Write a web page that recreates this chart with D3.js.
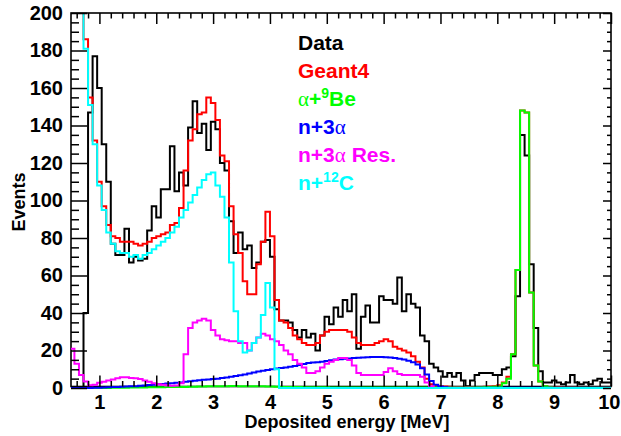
<!DOCTYPE html>
<html><head><meta charset="utf-8">
<script src="https://cdn.jsdelivr.net/npm/d3@7"></script>
<style>
body{margin:0;background:#fff;}
svg{display:block;}
text{font-family:"Liberation Sans",Arial,Helvetica,sans-serif;font-weight:bold;}
</style></head><body>
<svg id="c" width="621" height="436"></svg>
<script>
// ---- binning (MeV) ----
const binLow = 0.48, binWidth = 0.08;

// ---- series (counts per 0.08 MeV bin, first bin 0.48-0.56 MeV) ----
const dataCounts = [
  0,0,0,40,147,177,160,130,110,77,
  71,71,85,67,70,68,69,84,97,91,
  106,106,129,105,115,108,139,153,136,141,
  127,142,138,120,116,89,72,83,74,76,
  64,67,78,79,70,42,36,36,35,31,
  27,31,27,29,20,28,38,34,43,38,
  47,41,50,21,38,44,35,35,49,47,
  47,45,59,41,50,45,43,28,25,13,
  11,9,6,8,6,8,4,1,4,7,
  8,8,8,7,7,10,11,17,49,135,
  124,66,32,9,3,3,4,3,2,3,
  7,3,2,3,2,4,5,3,3
];
const geant4 = [
  260,235,210,186,155,132,110,97,87,81,
  80,78,78,78,77,76,77,78,80,81,
  82,83,87,88,96,116,132,138,146,147,
  155,152,143,124,121,97,82,72,57,50,
  50,66,78,94,81,47,36,35,32,28,
  26,24,23,23,24,28,30,31,31,31,
  31,30,27,24,23,23,23,24,25,26,
  25,22,21,20,19,17,14,11,5,2,
  1.2,1,0.8,0.7,0.6,0.6,0.5,0.5,0.5,0.6,
  0.6,0.7,0.8,1,1.5,3,6,18,63,148,
  147,51,12,3.5,1,0.5,0.4,0.4,0.3,0.3,
  0.3,0.3,0.2,0.2,0.2,0.2,0.2,0.2,0.2
];
const alphaBe9 = [
  0,0,0,0,0,0,0,0,0,0.1,
  0.1,0.2,0.2,0.3,0.3,0.3,0.3,0.4,0.4,0.4,
  0.4,0.5,0.5,0.5,0.6,0.6,0.7,0.7,0.8,0.8,
  0.9,0.9,1.0,1.0,1.0,1.1,1.1,1.0,1.0,1.0,
  0.9,0.9,0.9,0.8,0.8,0.7,0.6,0.6,0.5,0.5,
  0.5,0.4,0.4,0.4,0.4,0.4,0.4,0.3,0.3,0.3,
  0.3,0.3,0.3,0.3,0.3,0.3,0.3,0.3,0.3,0.3,
  0.3,0.3,0.3,0.3,0.3,0.3,0.3,0.3,0.3,0.3,
  0.3,0.3,0.3,0.3,0.3,0.3,0.3,0.3,0.3,0.4,
  0.4,0.5,0.5,0.7,0.8,2.6,5,18,63,148,
  147,51,12,3.5,1,0.4,0.2,0.2,0.2,0.2,
  0.2,0.2,0.2,0.2,0.2,0.2,0.2,0.2,0.2
];
const n3alpha = [
  0,0,0,0,0,0.1,0.2,0.3,0.4,0.5,
  0.6,0.7,0.8,0.9,1.0,1.2,1.4,1.6,1.8,2.0,
  2.2,2.4,2.6,2.8,3.0,3.3,3.6,3.9,4.2,4.4,
  4.6,4.8,5.0,5.3,5.6,6.0,6.4,6.8,7.2,7.8,
  8.3,8.8,9.2,9.6,10.0,10.4,10.7,11.0,11.4,11.8,
  12.3,12.8,13.3,13.6,13.8,14.0,14.4,14.8,15.2,15.4,
  15.6,15.8,16.0,16.2,16.3,16.4,16.5,16.6,16.5,16.4,
  16.3,16.0,15.6,15.2,14.6,13.8,12.6,10.6,7.2,3.8,
  1.8,0.8,0.4,0.2,0.1,0.1,0.1,0.1,0.1,0.1,
  0.1,0.1,0.1,0.1,0.1,0.1,0.1,0.1,0.1,0.1,
  0.1,0.1,0.1,0.1,0.1,0.1,0.1,0.1,0.1,0.1,
  0.1,0.1,0.1,0.1,0.1,0.1,0.1,0.1,0.1
];
const n3alphaRes = [
  21,13,7,3.5,1.5,1.8,2.8,3.4,4,4.6,
  5.2,5.7,5.8,5.4,5.2,4.8,4,3.4,2.6,2,
  1.7,1.3,1.2,1.4,2.6,18,32,35,36,37,
  36,31,28,26,25.5,25,25,24,24,20,
  24,27,29,28,26,25,23,20,18,15,
  13,11,8,8,9,11,13,14,15,16,
  16,15,12,8,7,7,7,7,7,8.5,
  10.5,9,7.5,7,7,7,7,6,3,1,
  0,0,0,0,0,0,0,0,0,0,
  0,0,0,0,0,0,0,0,0,0,
  0,0,0,0,0,0,0,0,0,0,
  0,0,0,0,0,0,0,0,0
];
const n12C = [
  280,250,220,181,151,130,108,95,83,77,
  73,72,72,70,71,69,71,72,74,76,
  78,80,83,86,91,95,99,103,107,111,
  114,115,108,102,91,67,41,25,19,20,
  24,27,39,56,43,10,0,0,0,0,
  0,0,0,0,0,0,0,0,0,0,
  0,0,0,0,0,0,0,0,0,0,
  0,0,0,0,0,0,0,0,0,0,
  0,0,0,0,0,0,0,0,0,0,
  0,0,0,0,0,0,0,0,0,0,
  0,0,0,0,0,0,0,0,0,0,
  0,0,0,0,0,0,0,0,0
];

// ---- ticks ----
const xMajorTicks = [1,2,3,4,5,6,7,8,9,10];
const yMajorTicks = [0,20,40,60,80,100,120,140,160,180,200];
const legendNames = ["Data","Geant4","α+9Be","n+3α","n+3α Res.","n+12C"];

// ---- styles ----
const seriesColors = ["#000000","#ff0000","#00ff00","#0000ff","#ff00ff","#00ffff"];

const svg = d3.select("#c");
const W = 621, H = 436, L = 71, R = 611, T = 13, B = 388;
svg.append("rect").attr("width",W).attr("height",H).attr("fill","#fff");

const x = d3.scaleLinear().domain([0.5,10]).range([L,R]);
const y = d3.scaleLinear().domain([0,200]).range([B,T]);

const nb = dataCounts.length;
const edges = d3.range(nb+1).map(i => binLow + i*binWidth);

svg.append("defs").append("clipPath").attr("id","plotclip")
  .append("rect").attr("x",L).attr("y",T).attr("width",R-L).attr("height",B-T+2);

const line = d3.line().x(d=>x(d[0])).y(d=>y(d[1])).curve(d3.curveStepAfter);
function pts(vals){
  const p = vals.map((v,i)=>[edges[i], v]);
  p.push([edges[vals.length], vals[vals.length-1]]);
  return p;
}

// frame
svg.append("rect").attr("x",L).attr("y",T).attr("width",R-L).attr("height",386.5-T)
  .attr("fill","none").attr("stroke","#000").attr("stroke-width",1.6);

const series = [dataCounts, geant4, alphaBe9, n3alpha, n3alphaRes, n12C];
const hg = svg.append("g").attr("clip-path","url(#plotclip)");
series.forEach((s,i)=>{
  hg.append("path").attr("d", line(pts(s)))
    .attr("fill","none").attr("stroke",seriesColors[i]).attr("stroke-width",2)
    .attr("stroke-linejoin","miter");
});

// ticks
const xMinor = d3.range(3,50).map(i=>i*0.2).filter(v=>Math.abs(v-Math.round(v))>1e-6 && v<10);
const yMinor = d3.range(0,41).map(i=>i*5).filter(v=>v%20!==0);
function tickAxis(gen, tr, vals, size){
  const g = svg.append("g").attr("transform",tr)
    .call(gen.tickValues(vals).tickSize(size).tickFormat(""));
  g.select(".domain").remove();
  g.selectAll("line").attr("stroke","#000").attr("stroke-width",1.5);
}
tickAxis(d3.axisRight(y), `translate(${L},0)`, yMajorTicks, 16);
tickAxis(d3.axisRight(y), `translate(${L},0)`, yMinor, 8);
tickAxis(d3.axisLeft(y), `translate(${R},0)`, yMajorTicks, 8);
tickAxis(d3.axisLeft(y), `translate(${R},0)`, yMinor, 4);
tickAxis(d3.axisTop(x), `translate(0,386.5)`, xMajorTicks, 11);
tickAxis(d3.axisTop(x), `translate(0,386.5)`, xMinor, 5.5);
tickAxis(d3.axisBottom(x), `translate(0,${T})`, xMajorTicks, 11);
tickAxis(d3.axisBottom(x), `translate(0,${T})`, xMinor, 5.5);

// labels
function labelAxis(gen, tr, vals, pad){
  const g = svg.append("g").attr("transform",tr)
    .call(gen.tickValues(vals).tickSize(0).tickPadding(pad).tickFormat(d3.format("d")));
  g.select(".domain").remove();
  g.attr("font-size",20).attr("font-family",'"Liberation Sans",Arial,sans-serif').attr("font-weight","bold");
  g.selectAll("text").attr("fill","#000");
  return g;
}
labelAxis(d3.axisLeft(y), `translate(${L},0)`, yMajorTicks, 8);
const xl = labelAxis(d3.axisBottom(x), `translate(0,387)`, xMajorTicks, 8);
// keep the last label inside the window
xl.selectAll(".tick").filter(d=>d===10).select("text").attr("text-anchor","end").attr("x",9);

// axis titles
svg.append("text").attr("x",347).attr("y",428).attr("text-anchor","middle")
  .attr("font-size",18).text("Deposited energy [MeV]");
svg.append("text").attr("transform","translate(25,202) rotate(-90)").attr("text-anchor","middle")
  .attr("font-size",18).text("Events");

// legend
const greek = '"Liberation Serif","DejaVu Serif",serif';
const lg = svg.append("g");
legendNames.forEach((name,i)=>{
  const t = lg.append("text").attr("x",298).attr("y",50+28*i).attr("font-size",21)
    .attr("fill",seriesColors[i]);
  if (name === "α+9Be"){
    t.append("tspan").attr("font-family",greek).attr("font-weight","normal").text("α");
    t.append("tspan").text("+");
    t.append("tspan").attr("font-size",14).attr("dy",-8).text("9");
    t.append("tspan").attr("dy",8).text("Be");
  } else if (name === "n+12C"){
    t.append("tspan").text("n+");
    t.append("tspan").attr("font-size",14).attr("dy",-8).text("12");
    t.append("tspan").attr("dy",8).text("C");
  } else if (name.indexOf("α")>=0){
    const parts = name.split("α");
    t.append("tspan").text(parts[0]);
    t.append("tspan").attr("font-family",greek).attr("font-weight","normal").text("α");
    if (parts[1]) t.append("tspan").text(parts[1]);
  } else {
    t.text(name);
  }
});
</script>
</body></html>
